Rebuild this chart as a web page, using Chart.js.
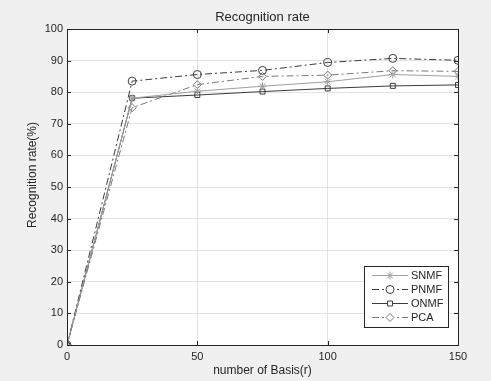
<!DOCTYPE html>
<html>
<head>
<meta charset="utf-8">
<script src="https://cdn.jsdelivr.net/npm/chart.js@4/dist/chart.umd.min.js"></script>
<style>
html,body{margin:0;padding:0;background:#f0f0f0;}
#wrap{width:491px;height:381px;position:relative;}
</style>
</head>
<body>
<div id="wrap"><canvas id="c" width="491" height="381"></canvas></div>
<script>
const basis = [0, 25, 50, 75, 100, 125, 150];
const snmf = [0, 78.1, 80.3, 81.9, 83.3, 85.6, 85.0];
const pnmf = [0, 83.5, 85.6, 86.9, 89.4, 90.7, 90.1];
const onmf = [0, 78.1, 79.1, 80.2, 81.2, 82.0, 82.3];
const pca  = [0, 75.1, 82.4, 85.0, 85.4, 86.8, 86.6];
const seriesNames = ['SNMF', 'PNMF', 'ONMF', 'PCA'];
const xTicks = [0, 50, 100, 150];
const yTicks = [0, 10, 20, 30, 40, 50, 60, 70, 80, 90, 100];
const titleText = 'Recognition rate';
const xTitle = 'number of Basis(r)';
const yTitle = 'Recognition rate(%)';

const FONT = '"Liberation Sans", Arial, sans-serif';
const styles = [
  {color:'#a0a0a0', dash:[], point:'star', r:4},
  {color:'#3c3c3c', dash:[7,3,2,3], point:'circle', r:4},
  {color:'#3c3c3c', dash:[], point:'rect', r:3.5},
  {color:'#7a7a7a', dash:[7,3,2,3], point:'rectRot', r:4}
];
const values = [snmf, pnmf, onmf, pca];

const datasets = values.map((v,i)=>({
  label: seriesNames[i],
  data: basis.map((x,j)=>({x:x, y:v[j]})),
  borderColor: styles[i].color,
  borderWidth: 1,
  borderDash: styles[i].dash,
  pointStyle: styles[i].point,
  pointRadius: styles[i].r,
  pointBorderColor: styles[i].color,
  pointBackgroundColor: 'rgba(0,0,0,0)',
  pointBorderWidth: 1,
  fill: false,
  tension: 0
}));

const decor = {
  id: 'decor',
  beforeDraw(chart){
    const ctx = chart.ctx, a = chart.chartArea;
    ctx.save();
    ctx.fillStyle = '#f0f0f0';
    ctx.fillRect(0,0,chart.width,chart.height);
    ctx.fillStyle = '#ffffff';
    ctx.fillRect(a.left, a.top, a.right-a.left, a.bottom-a.top);
    ctx.restore();
  },
  afterDatasetsDraw(chart){
    const ctx = chart.ctx, a = chart.chartArea;
    const xs = chart.scales.x, ys = chart.scales.y;
    ctx.save();
    ctx.strokeStyle = '#262626';
    ctx.lineWidth = 1;
    ctx.strokeRect(Math.round(a.left)+0.5, Math.round(a.top)+0.5, Math.round(a.right-a.left), Math.round(a.bottom-a.top));
    ctx.beginPath();
    yTicks.forEach(t=>{
      const y = Math.round(ys.getPixelForValue(t))+0.5;
      ctx.moveTo(a.left, y); ctx.lineTo(a.left+4, y);
      ctx.moveTo(a.right, y); ctx.lineTo(a.right-4, y);
    });
    xTicks.forEach(t=>{
      const x = Math.round(xs.getPixelForValue(t))+0.5;
      ctx.moveTo(x, a.bottom); ctx.lineTo(x, a.bottom-4);
      ctx.moveTo(x, a.top); ctx.lineTo(x, a.top+4);
    });
    ctx.stroke();
    ctx.fillStyle = '#262626';
    ctx.textAlign = 'center';
    ctx.textBaseline = 'middle';
    ctx.font = '13px ' + FONT;
    ctx.fillText(titleText, (a.left+a.right)/2, 17);
    ctx.font = '12px ' + FONT;
    ctx.fillText(xTitle, (a.left+a.right)/2, 371);
    ctx.save();
    ctx.translate(33, 175);
    ctx.rotate(-Math.PI/2);
    ctx.fillText(yTitle, 0, 0);
    ctx.restore();
    // legend
    const lx = 364, ly = 266, lw = 84, lh = 61;
    ctx.fillStyle = '#ffffff';
    ctx.fillRect(lx, ly, lw, lh);
    ctx.strokeStyle = '#262626';
    ctx.strokeRect(lx+0.5, ly+0.5, lw, lh);
    ctx.font = '11px ' + FONT;
    ctx.textAlign = 'left';
    const rows = [275, 289, 303, 317];
    datasets.forEach((d,i)=>{
      const y = rows[i]+0.5;
      ctx.strokeStyle = d.borderColor;
      ctx.lineWidth = 1;
      ctx.setLineDash(d.borderDash);
      ctx.beginPath();
      ctx.moveTo(372, y); ctx.lineTo(408, y);
      ctx.stroke();
      ctx.setLineDash([]);
      ctx.fillStyle = '#ffffff';
      Chart.helpers.drawPoint(ctx, {pointStyle:d.pointStyle, radius:d.pointRadius, borderWidth:1, rotation:0}, 390, y);
      ctx.fillStyle = '#262626';
      ctx.fillText(d.label, 411, rows[i]+1);
    });
    ctx.restore();
  }
};

new Chart(document.getElementById('c'), {
  type: 'line',
  data: { datasets: datasets },
  options: {
    responsive: false,
    animation: false,
    layout: { padding: { top: 29, right: 33, left: 0, bottom: 0 } },
    plugins: { legend: { display: false }, title: { display: false }, tooltip: { enabled: false } },
    scales: {
      x: {
        type: 'linear', min: 0, max: 150,
        afterBuildTicks(s){ s.ticks = xTicks.map(v=>({value:v})); },
        afterFit(s){ s.height = 36; },
        grid: { color: '#e3e3e3', drawTicks: false },
        border: { display: false },
        ticks: { color: '#262626', font: { family: FONT, size: 11 }, padding: 5, maxRotation: 0 }
      },
      y: {
        min: 0, max: 100,
        afterBuildTicks(s){ s.ticks = yTicks.map(v=>({value:v})); },
        afterFit(s){ s.width = 67; },
        grid: { color: '#e3e3e3', drawTicks: false },
        border: { display: false },
        ticks: { color: '#262626', font: { family: FONT, size: 11 }, padding: 4 }
      }
    }
  },
  plugins: [decor]
});
</script>
</body>
</html>
